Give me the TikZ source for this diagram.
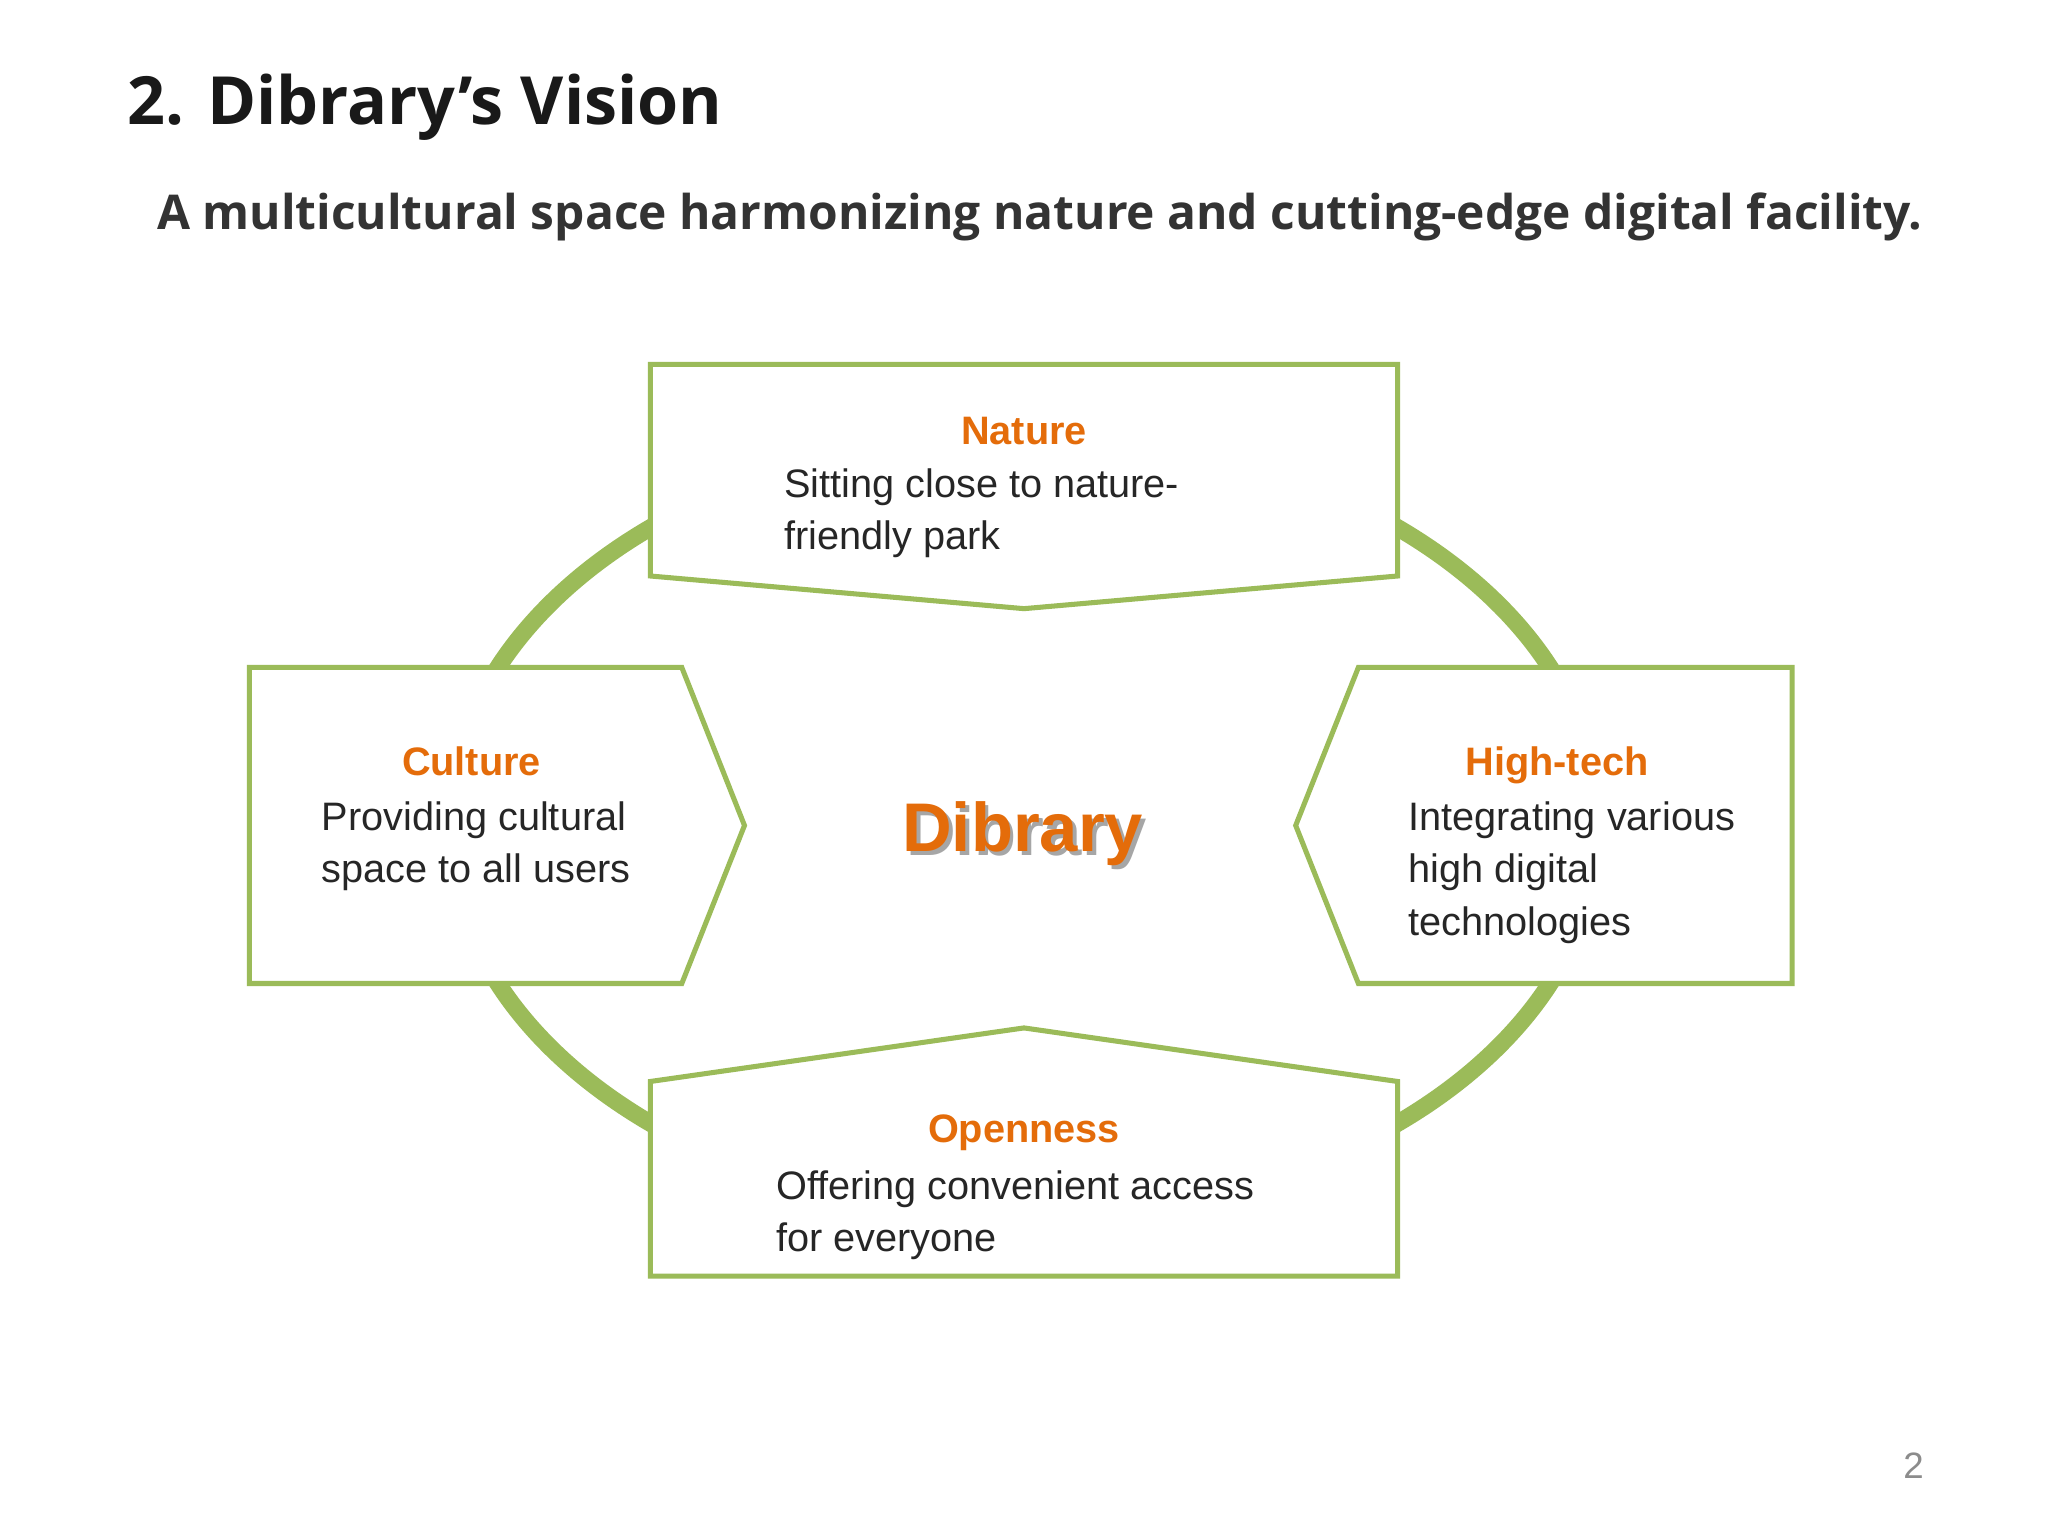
\documentclass[tikz,border=0pt]{standalone}
\usepackage{fontspec}
\setmainfont{Liberation Sans}
\newfontfamily\titlefont{Open Sans}
\begin{document}
\begin{tikzpicture}[x=0.02cm,y=-0.02cm,
  box/.style={draw=grn,line width=2.2pt,fill=white},
  head/.style={font=\fontsize{17.3}{21}\selectfont\bfseries,text=org,anchor=base},
  body/.style={font=\fontsize{17.3}{21}\selectfont,text=black!85,anchor=base west,inner sep=0pt}]
\definecolor{grn}{HTML}{9BBB59}
\definecolor{org}{HTML}{E46C0A}
\useasboundingbox[fill=white] (0,0) rectangle (1568,1176);
\node[anchor=base west,inner sep=0pt,font=\titlefont\fontsize{33}{36}\selectfont\bfseries,text=black!90] (title) at (97,95) {\resizebox{9.12cm}{!}{2. Dibrary’s Vision}};
\node[anchor=base west,inner sep=0pt,font=\titlefont\fontsize{23}{26}\selectfont\bfseries,text=black!80] (sub) at (120,176) {\resizebox{27.04cm}{!}{A multicultural space harmonizing nature and cutting-edge digital facility.}};
\draw[grn,line width=7.5pt] (784,632) ellipse [x radius=440,y radius=300];
\draw[box] (498,279)--(1070,279)--(1070,441)--(784,466)--(498,441)--cycle;
\draw[box] (191,511)--(522,511)--(570,632)--(522,753)--(191,753)--cycle;
\draw[box] (1040,511)--(1372,511)--(1372,753)--(1040,753)--(992,632)--cycle;
\draw[box] (498,828)--(784,787)--(1070,828)--(1070,977)--(498,977)--cycle;
\node[head] (nh) at (784,340) {Nature};
\node[body] (n1) at (600,381) {Sitting close to nature-};
\node[body] (n2) at (600,421) {friendly park};
\node[head] (ch) at (361,594) {Culture};
\node[body] (c1) at (246,636) {Providing cultural};
\node[body] (c2) at (246,676) {space to all users};
\node[head] (hh) at (1192,594) {High-tech};
\node[body] (h1) at (1078,636) {Integrating various};
\node[body] (h2) at (1078,676) {high digital};
\node[body] (h3) at (1078,716) {technologies};
\node[head] (oh) at (784,875) {Openness};
\node[body] (o1) at (594,918) {Offering convenient access};
\node[body] (o2) at (594,958) {for everyone};
\node[anchor=base,font=\fontsize{30}{34}\selectfont\bfseries,text=black!35] at (786,655) {Dibrary};
\node[anchor=base,font=\fontsize{30}{34}\selectfont\bfseries,text=org] (dib) at (783,652) {Dibrary};
\node[anchor=base,font=\fontsize{16}{18}\selectfont,text=black!45] (pg) at (1465,1132) {2};
\end{tikzpicture}
\end{document}
